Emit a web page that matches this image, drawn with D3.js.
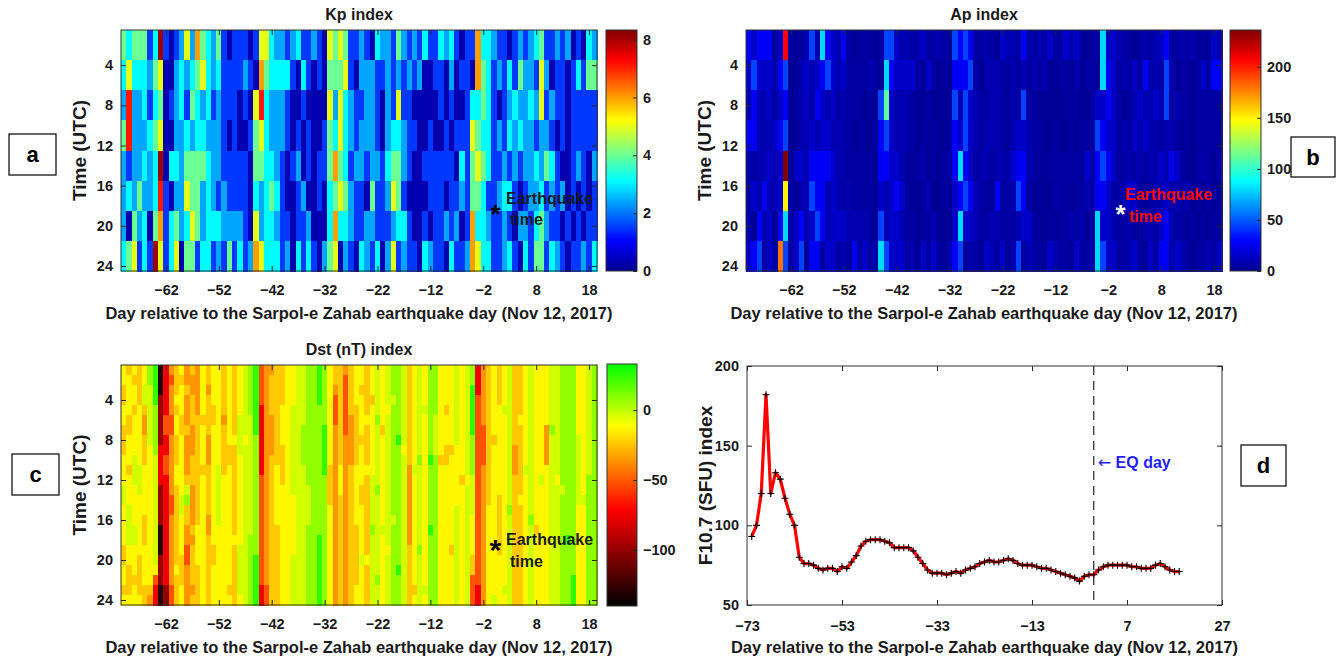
<!DOCTYPE html>
<html>
<head>
<meta charset="utf-8">
<title>Kp, Ap, Dst and F10.7 around the Sarpol-e Zahab earthquake</title>
<script src="https://d3js.org/d3.v7.min.js"></script>
<style>
  body { margin: 0; background: #ffffff; }
  text { font-family: "Liberation Sans", Arial, Helvetica, sans-serif; font-weight: bold; }
</style>
</head>
<body>
<svg id="fig" width="1344" height="663"></svg>
<script>
// ---------------- data ----------------
// one heatmap column per day relative to the earthquake day
var days = d3.range(-70, 20);
var dayTicks = [-62, -52, -42, -32, -22, -12, -2, 8, 18];
var hourTicks = [4, 8, 12, 16, 20, 24];

// Kp: one string per 3-hour slot, one code per day, looked up in kpLevels
var kpHours = [2, 5, 8, 11, 14, 17, 20, 23];
var kpLevels = [0.3, 1.5, 2.4, 3.1, 4, 5, 6, 7.1, 8.1];
var kpRows = [
  "4344413810" + "1252643241" + "0111015532" + "2123112105" + "4541121032" + "2142121311" + "3231011633" + "2110121234" + "1121201032",
  "3533324500" + "2323453231" + "1112106433" + "3310310104" + "4451022211" + "2121212001" + "1020110643" + "1213142215" + "2011013144",
  "2722313401" + "2314323121" + "1101057322" + "2100100005" + "2532112210" + "2151100000" + "1010013343" + "1012322325" + "1211011111",
  "4722234500" + "2232332221" + "0100145322" + "2101010014" + "3532122210" + "2332110010" + "0101115433" + "1213232212" + "2101011111",
  "2122323803" + "3244443221" + "1111044332" + "1012010114" + "6431221221" + "3442100111" + "1110314543" + "1121212232" + "4310012102",
  "2324223710" + "2254423212" + "1111032343" + "1001200103" + "4542110411" + "2541000011" + "1011214431" + "1233101223" + "1212010101",
  "2042304613" + "4235423332" + "2221052332" + "1101120003" + "6332112211" + "1233100101" + "1212016332" + "1121022134" + "2110101011",
  "3451318513" + "5044133121" + "4131265333" + "1203131024" + "5021032130" + "2512110321" + "1031126533" + "1123103144" + "1321011213"
];
var kpTicks = [0, 2, 4, 6, 8];

// Ap: same layout, each character is a code looked up in apLevels
var apLevels = {"0": 2, "1": 5, "2": 9, "3": 15, "4": 27, "5": 45, "6": 80, "7": 110, "8": 150, "9": 180, "a": 207, "b": 236};
var apRows = [
  "4344413a10" + "1252643241" + "0111015532" + "2123112105" + "4541121032" + "2142121311" + "3231011633" + "2110121234" + "1121201032",
  "3533324500" + "2323453231" + "1112106433" + "3310310104" + "4451022211" + "2121212001" + "1020110643" + "1213142215" + "2011013144",
  "2422313401" + "2314323121" + "1101057322" + "2100100005" + "2532112210" + "2151100000" + "1010013343" + "1012322325" + "1211011111",
  "4422234500" + "2232332221" + "0100145322" + "2101010014" + "3532122210" + "2332110010" + "0101115433" + "1213232212" + "2101011111",
  "2122323b03" + "3244443221" + "1111044332" + "1012010114" + "6431221221" + "3442100111" + "1110314543" + "1121212232" + "4310012102",
  "2324223810" + "2254423212" + "1111032343" + "1001200103" + "4542110411" + "2541000011" + "1011214431" + "1233101223" + "1212010101",
  "2042304613" + "4235423332" + "2221052332" + "1101120003" + "6332112211" + "1233100101" + "1212016332" + "1121022134" + "2110101011",
  "3451319513" + "5044133121" + "4131265333" + "1203131024" + "5021032130" + "2512110321" + "1031126533" + "1123103144" + "1321011213"
];
var apTicks = [0, 50, 100, 150, 200];

// Dst: one string per day, one code per hour (01..24 UTC), looked up in dstLevels (nT)
var dstLevels = [25, 8, -3, -13, -24, -36, -52, -75, -100, -130];
var dstDays = [
  "334433444333223333443343", "433334433343332222334443", "343343333222333322333433", "444433333322233333344443",
  "332245544433333444333344", "112222223333333333333345", "000011111222222222223677", "999888887777888899988899",
  "777776677667777777777788", "565556655555566555555566", "444343344433444444443444", "343334433333322333344433",
  "554555455554214455665555", "455444555444555545444454", "555554444444444433334444", "333334333343333333333333",
  "445444455544444554444444", "333344333333333333443333", "333333333322222233333333", "444445444443333333333333",
  "333333334433333333333343", "444444434444444443444444", "333332222333333333222223", "222222232222222222222222",
  "111112222222222221111111", "000000011111111111100000", "666677777776666666666677", "555555555555555555555566",
  "544445555444444444444444", "444444444433333344444444", "444433334444333333333333", "333333333333333333333333",
  "333322222222233333322222", "222222222222222222222222", "222222111122222222222222", "111111111111222211111111",
  "111111111111111111111111", "000011111111111110000000", "111111000001111111111111", "333333333344443333333333",
  "445666555555555555555555", "444444444433344444444444", "566666655555555555555555", "444445555544444444444444",
  "333344444433333344444433", "334333343333443333323333", "444443444434444444434444", "333433333332222212222222",
  "222221222222122222222122", "333333433333333323333333", "222232222222222222322222", "111211111111111211111111",
  "111111101111111111110111", "222222223222222222222222", "444444444455555555444444", "333333333323333333333343",
  "222222222122222222122222", "333323333333333333333323", "111111111011111101111111", "111112222111111111111111",
  "333333333433333333333333", "333343334433333333333333", "333333334333333333433333", "222222223333332222222222",
  "333333333334333333333333", "222222222223222222222222", "110000011112222333344666", "777666666666666666666677",
  "555555666655555555555555", "444444444444443333333333", "333333343333333333333332", "444433333333344444433333",
  "333323333333333333333323", "222222222222221222222222", "444444445554444444444444", "444443444444434444444444",
  "333333333323333333333333", "222222222222222122222222", "333333333333333343333333", "333333333332333333333333",
  "333333555533333333333333", "222222122222222222222222", "222222222223222222222222", "111111111111211111111111",
  "111111111111111110111111", "111111111111111111111000", "333333322222223333333333", "333333333333323333333333",
  "222222222221111111111111", "111111111111111111111111"
];
var dstTicks = [0, -50, -100];

// F10.7 solar flux, daily, from day -72 to day 18
var f107Days = d3.range(-72, 19);
var f107 = [93, 100, 120, 182, 120, 133, 129, 117, 107, 100,
            80, 76, 76, 75, 73, 72, 73, 73, 71, 74,
            73, 77, 81, 87, 90, 91, 91, 91, 90, 89,
            86, 86, 86, 86, 84, 80, 76, 72, 70, 70,
            70, 69, 70, 71, 70, 72, 73, 74, 76, 77,
            78, 77, 77, 78, 79, 78, 76, 75, 75, 75,
            74, 73, 73, 72, 71, 70, 69, 68, 67, 65,
            68, 69, 69, 72, 74, 75, 75, 75, 75, 75,
            74, 74, 73, 73, 73, 75, 76, 74, 72, 71, 71];
var f107XTicks = [-73, -53, -33, -13, 7, 27];
var f107YTicks = [50, 100, 150, 200];

var xLabel = "Day relative to the Sarpol-e Zahab earthquake day (Nov 12, 2017)";

// ---------------- helpers ----------------
var svg = d3.select("#fig");
var defs = svg.append("defs");
var ink = "#1a1a1a";

// MATLAB jet colormap as a d3 scale
function jetScale(max) {
  return d3.scaleLinear()
    .domain([0, 0.125, 0.375, 0.625, 0.875, 1].map(function(t) { return t * max; }))
    .range(["#00008f", "#0000ff", "#00ffff", "#ffff00", "#ff0000", "#800000"])
    .clamp(true);
}

function styleAxis(a) {
  a.attr("font-family", null).attr("font-size", null);
  a.select(".domain").remove();
  a.selectAll("line").attr("stroke", "#262626");
  a.selectAll("text").attr("font-size", 14.5).attr("fill", ink);
}

// box with inward ticks on all four sides, labels on bottom and left
function addAxes(g, x, y, box, xTicks, yTicks, padX) {
  g.append("g").attr("transform", "translate(0," + box.bottom + ")")
    .call(d3.axisBottom(x).tickValues(xTicks).tickSize(-5).tickPadding(padX))
    .call(styleAxis);
  g.append("g").attr("transform", "translate(0," + box.top + ")")
    .call(d3.axisTop(x).tickValues(xTicks).tickSize(-5).tickFormat(""))
    .call(styleAxis);
  g.append("g").attr("transform", "translate(" + box.left + ",0)")
    .call(d3.axisLeft(y).tickValues(yTicks).tickSize(-5).tickPadding(8))
    .call(styleAxis);
  g.append("g").attr("transform", "translate(" + box.right + ",0)")
    .call(d3.axisRight(y).tickValues(yTicks).tickSize(-5).tickFormat(""))
    .call(styleAxis);
  g.append("rect")
    .attr("x", box.left).attr("y", box.top)
    .attr("width", box.right - box.left).attr("height", box.bottom - box.top)
    .attr("fill", "none").attr("stroke", "#333333");
}

function addLabels(g, box, title, yTitle) {
  var cx = (box.left + box.right) / 2, cy = (box.top + box.bottom) / 2;
  if (title) {
    g.append("text").attr("x", cx).attr("y", box.top - 10)
      .attr("text-anchor", "middle").attr("font-size", 16).attr("fill", ink).text(title);
  }
  g.append("text").attr("x", cx).attr("y", box.bottom + 48)
    .attr("text-anchor", "middle").attr("font-size", 16.5).attr("fill", ink).text(xLabel);
  g.append("text")
    .attr("transform", "translate(" + (box.left - 35) + "," + cy + ") rotate(-90)")
    .attr("text-anchor", "middle").attr("font-size", 19).attr("fill", ink).text(yTitle);
}

function addColorbar(g, color, domain, ticks, box, id) {
  var cy = d3.scaleLinear().domain(domain).range([box.bottom, box.top]);
  var grad = defs.append("linearGradient").attr("id", id)
    .attr("x1", 0).attr("y1", 1).attr("x2", 0).attr("y2", 0);
  d3.range(0, 1.0001, 0.01).forEach(function(t) {
    grad.append("stop").attr("offset", t)
      .attr("stop-color", color(domain[0] + t * (domain[1] - domain[0])));
  });
  g.append("rect").attr("x", box.left).attr("y", box.top)
    .attr("width", box.right - box.left).attr("height", box.bottom - box.top)
    .attr("fill", "url(#" + id + ")").attr("stroke", "#333333");
  g.append("g").attr("transform", "translate(" + box.right + ",0)")
    .call(d3.axisRight(cy).tickValues(ticks).tickSize(-4).tickPadding(6))
    .call(styleAxis);
}

function drawCells(g, cells, x, y, color) {
  g.append("g").selectAll("rect")
    .data(cells)
    .enter()
    .append("rect")
    .attr("x", function(d) { return x(d.day - 0.5); })
    .attr("y", function(d) { return y(d.hour - d.span / 2); })
    .attr("width", function(d) { return x(d.day + 0.5) - x(d.day - 0.5) + 0.6; })
    .attr("height", function(d) { return y(d.hour + d.span / 2) - y(d.hour - d.span / 2) + 0.6; })
    .attr("fill", function(d) { return color(d.v); })
    .attr("shape-rendering", "crispEdges");
}

function quakeNote(g, x, y, starColor, textColor, starSize, tx, ty, gap) {
  g.append("text").attr("x", x(0.3)).attr("y", y(18.3)).attr("dy", "0.56em")
    .attr("text-anchor", "middle").attr("font-size", starSize).attr("fill", starColor).text("*");
  g.append("text").attr("x", tx).attr("y", ty)
    .attr("font-size", 16).attr("fill", textColor).text("Earthquake");
  g.append("text").attr("x", tx + 4).attr("y", ty + gap)
    .attr("font-size", 16).attr("fill", textColor).text("time");
}

function panelTag(letter, bx, by, bw, bh) {
  svg.append("rect").attr("x", bx).attr("y", by).attr("width", bw).attr("height", bh)
    .attr("fill", "#ffffff").attr("stroke", "#000000").attr("stroke-width", 1.2);
  svg.append("text").attr("x", bx + bw / 2).attr("y", by + bh / 2).attr("dy", "0.36em")
    .attr("text-anchor", "middle").attr("font-size", 22).attr("fill", "#000000").text(letter);
}

// ---------------- panel a: Kp ----------------
var boxA = {left: 121, right: 597, top: 30, bottom: 271};
var xA = d3.scaleLinear().domain([-70.5, 19.5]).range([boxA.left, boxA.right]);
var yA = d3.scaleLinear().domain([0.5, 24.5]).range([boxA.top, boxA.bottom]);
var kpColor = jetScale(8.33);
var kpCells = [];
kpRows.forEach(function(row, r) {
  days.forEach(function(d, k) {
    kpCells.push({day: d, hour: kpHours[r], span: 3, v: kpLevels[+row.charAt(k)]});
  });
});
var gA = svg.append("g");
drawCells(gA, kpCells, xA, yA, kpColor);
addAxes(gA, xA, yA, boxA, dayTicks, hourTicks, 14);
addLabels(gA, boxA, "Kp index", "Time (UTC)");
addColorbar(gA, kpColor, [0, 8.33], kpTicks, {left: 606, right: 637, top: 30, bottom: 271}, "cbKp");
quakeNote(gA, xA, yA, "#000000", ink, 26, 506, 204, 21);

// ---------------- panel b: Ap ----------------
var boxB = {left: 746, right: 1222, top: 30, bottom: 271};
var xB = d3.scaleLinear().domain([-70.5, 19.5]).range([boxB.left, boxB.right]);
var yB = d3.scaleLinear().domain([0.5, 24.5]).range([boxB.top, boxB.bottom]);
var apColor = jetScale(236);
var apCells = [];
apRows.forEach(function(row, r) {
  days.forEach(function(d, k) {
    apCells.push({day: d, hour: kpHours[r], span: 3, v: apLevels[row.charAt(k)]});
  });
});
var gB = svg.append("g");
drawCells(gB, apCells, xB, yB, apColor);
addAxes(gB, xB, yB, boxB, dayTicks, hourTicks, 14);
addLabels(gB, boxB, "Ap index", "Time (UTC)");
addColorbar(gB, apColor, [0, 236], apTicks, {left: 1230, right: 1261, top: 30, bottom: 271}, "cbAp");
quakeNote(gB, xB, yB, "#ffffff", "#ff0000", 26, 1125, 200, 22);

// ---------------- panel c: Dst ----------------
var boxC = {left: 121, right: 597, top: 365, bottom: 605};
var xC = d3.scaleLinear().domain([-70.5, 19.5]).range([boxC.left, boxC.right]);
var yC = d3.scaleLinear().domain([0.5, 24.5]).range([boxC.top, boxC.bottom]);
var dstColor = d3.scaleLinear()
  .domain([-140, -71, -11, 33])
  .range(["#000000", "#ff0000", "#ffff00", "#00ff00"])
  .clamp(true);
var dstCells = [];
dstDays.forEach(function(col, k) {
  for (var h = 0; h < col.length; h++) {
    dstCells.push({day: days[k], hour: h + 1, span: 1, v: dstLevels[+col.charAt(h)]});
  }
});
var gC = svg.append("g");
drawCells(gC, dstCells, xC, yC, dstColor);
addAxes(gC, xC, yC, boxC, dayTicks, hourTicks, 14);
addLabels(gC, boxC, "Dst (nT) index", "Time (UTC)");
addColorbar(gC, dstColor, [-140, 33], dstTicks, {left: 607, right: 637, top: 364, bottom: 606}, "cbDst");
quakeNote(gC, xC, yC, "#000000", ink, 30, 506, 545, 22);

// ---------------- panel d: F10.7 ----------------
var boxD = {left: 747, right: 1222, top: 366, bottom: 605};
var xD = d3.scaleLinear().domain([-73, 27]).range([boxD.left, boxD.right]);
var yD = d3.scaleLinear().domain([50, 200]).range([boxD.bottom, boxD.top]);
var gD = svg.append("g");
addAxes(gD, xD, yD, boxD, f107XTicks, f107YTicks, 16);
addLabels(gD, boxD, null, "F10.7 (SFU) index");

var pts = f107Days.map(function(d, i) { return [d, f107[i]]; });
gD.append("path")
  .datum(pts)
  .attr("fill", "none")
  .attr("stroke", "#ff0000")
  .attr("stroke-width", 3.2)
  .attr("stroke-linejoin", "round")
  .attr("d", d3.line().x(function(d) { return xD(d[0]); }).y(function(d) { return yD(d[1]); }));
gD.append("g").selectAll("path")
  .data(pts)
  .enter()
  .append("path")
  .attr("transform", function(d) { return "translate(" + xD(d[0]) + "," + yD(d[1]) + ")"; })
  .attr("d", "M-3.5,0H3.5M0,-3.5V3.5")
  .attr("stroke", "#000000")
  .attr("stroke-width", 1.1);

// earthquake day marker
gD.append("line")
  .attr("x1", xD(0)).attr("x2", xD(0))
  .attr("y1", boxD.top).attr("y2", boxD.bottom)
  .attr("stroke", "#222222").attr("stroke-width", 1.2)
  .attr("stroke-dasharray", "9,6");
var eq = gD.append("text").attr("x", xD(0) + 4).attr("y", 468)
  .attr("font-size", 16).attr("fill", "#1f1fff");
eq.append("tspan").attr("font-family", "DejaVu Sans").attr("font-weight", "normal").text("\u2190");
eq.append("tspan").text(" EQ day");

// panel letters
panelTag("a", 9, 134, 47, 41);
panelTag("b", 1291, 137, 44, 40);
panelTag("c", 12, 454, 47, 41);
panelTag("d", 1241, 445, 45, 41);
</script>
</body>
</html>
